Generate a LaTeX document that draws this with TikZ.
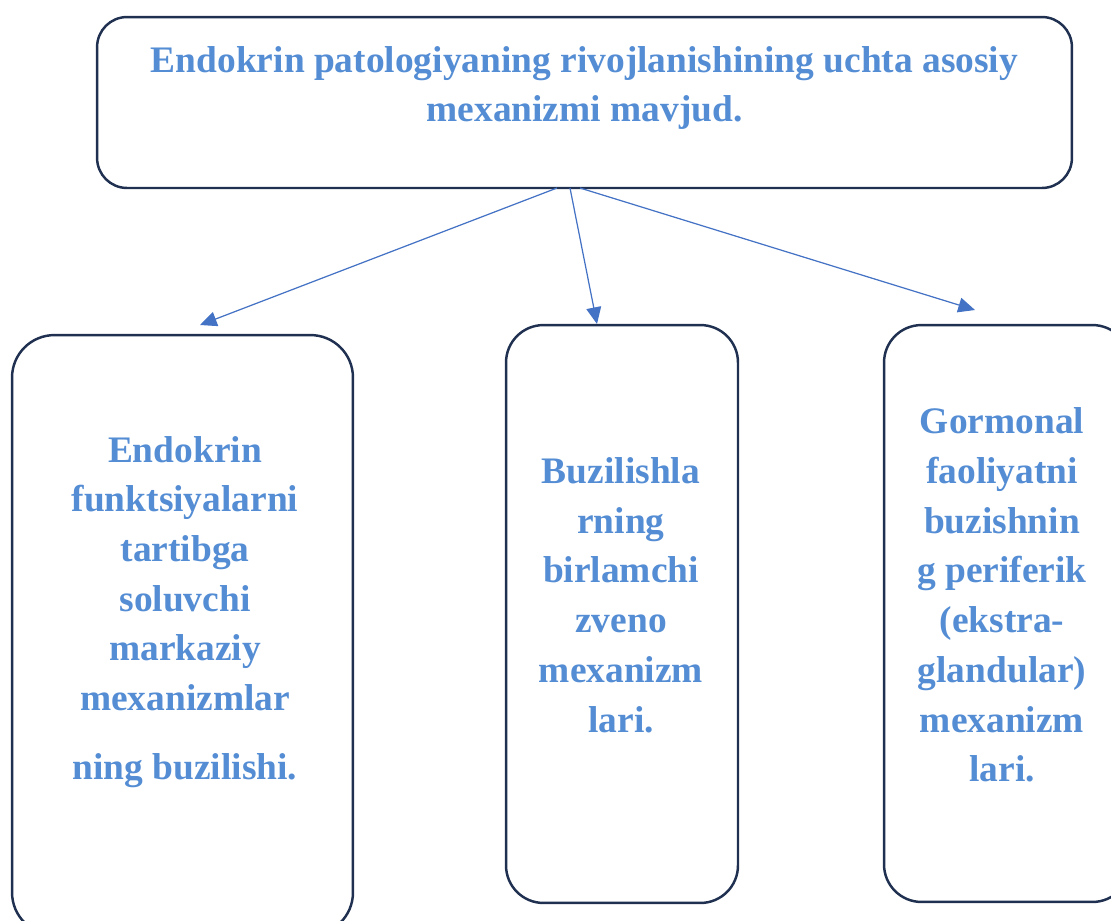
\documentclass[tikz,border=0pt]{standalone}
\usepackage{fontspec}
\setmainfont{Liberation Serif}
\usetikzlibrary{arrows.meta}
\definecolor{boxline}{RGB}{31,48,80}
\definecolor{arrowblue}{RGB}{68,114,196}
\definecolor{textblue}{RGB}{84,141,212}
\begin{document}
\begin{tikzpicture}[x=0.02cm,y=-0.02cm,>={Triangle[length=9.5pt,width=8.5pt]},
	box/.style={draw=boxline,line width=1.4pt,fill=white},
	lbl/.style={text=textblue,font=\fontsize{21.3}{28.3}\selectfont\bfseries,align=center}]
\useasboundingbox (0,0) rectangle (1111,920);
\clip (0,0) rectangle (1111,920);

	% boxes
	\node[box,rounded corners=0.6cm,minimum width=19.5cm,minimum height=3.42cm] (top) at (584.5,102.5) {};
	\node[box,rounded corners=0.85cm,minimum width=6.82cm,minimum height=12cm] (left) at (182.5,635) {};
	\node[box,rounded corners=0.75cm,minimum width=4.64cm,minimum height=11.56cm] (mid) at (622,614) {};
	\node[box,rounded corners=0.75cm,minimum width=4.92cm,minimum height=11.54cm] (right) at (1007,613.5) {};

	% texts
	\node[lbl] (ttop) at (584.5,88) {Endokrin patologiyaning rivojlanishining uchta asosiy\\mexanizmi mavjud.};
	\node[lbl] (tleft) at (185,612) {Endokrin\\funktsiyalarni\\tartibga\\soluvchi\\markaziy\\mexanizmlar\\[11pt]ning buzilishi.};
	\node[lbl] (tmid) at (621,595) {Buzilishla\\rning\\birlamchi\\zveno\\mexanizm\\lari.};
	\node[lbl] (tright) at (1002,595) {Gormonal\\faoliyatni\\buzishnin\\g periferik\\(ekstra-\\glandular)\\mexanizm\\lari.};

	% arrows
	\coordinate (s1) at (557,188);
	\coordinate (s2) at (570,188);
	\coordinate (s3) at (580,188);
	\coordinate (e1) at (200,325);
	\coordinate (e2) at (597,324);
	\coordinate (e3) at (975,310);
	\draw[->,arrowblue,line width=0.7pt] (s1) -- (e1);
	\draw[->,arrowblue,line width=0.7pt] (s2) -- (e2);
	\draw[->,arrowblue,line width=0.7pt] (s3) -- (e3);

\end{tikzpicture}
\end{document}
